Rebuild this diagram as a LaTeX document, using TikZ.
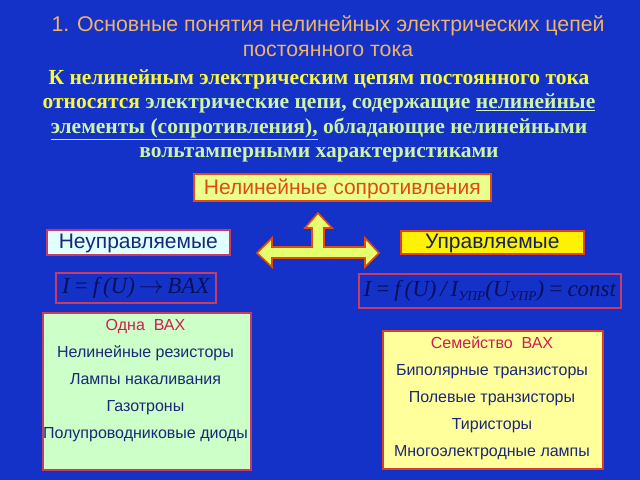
\documentclass[tikz,border=0pt]{standalone}
\usepackage{fontspec}
\setmainfont{Liberation Sans}
\newfontfamily\timesf{Liberation Serif}
\definecolor{bg}{RGB}{20,50,200}
\definecolor{titlec}{RGB}{240,180,100}
\definecolor{yel}{RGB}{250,250,60}
\definecolor{grn}{RGB}{205,245,165}
\definecolor{redb}{RGB}{220,60,40}
\definecolor{pinkb}{RGB}{200,60,100}
\definecolor{navy}{RGB}{25,40,120}
\definecolor{crim}{RGB}{205,30,80}
\definecolor{orangetx}{RGB}{225,75,15}
\definecolor{lgy}{RGB}{235,255,140}
\definecolor{arrowf}{RGB}{230,255,110}
\definecolor{lcyan}{RGB}{225,255,255}
\definecolor{lgreen}{RGB}{205,255,200}
\definecolor{lyellow}{RGB}{255,255,155}
\definecolor{formc}{RGB}{10,15,90}
\tikzset{
  box/.style={draw=redb, line width=1.6bp, inner sep=0pt, anchor=north west},
  formbox/.style={draw=pinkb, line width=1.6bp, inner sep=0pt, anchor=north west},
  listtx/.style={text=navy, font=\fontsize{16bp}{27bp}\selectfont, align=center},
}
\begin{document}
\begin{tikzpicture}[x=1bp,y=-1bp]
\fill[bg] (0,0) rectangle (640,480);
\useasboundingbox (0,0) rectangle (640,480);
% title
\node[text=titlec, font=\fontsize{21.3bp}{24.5bp}\selectfont, align=center] (title) at (328,36)
  {1. Основные понятия нелинейных электрических цепей\\постоянного тока};
% paragraph
\node[font=\timesf\bfseries\fontsize{21.5bp}{24.5bp}\selectfont, align=center] (para) at (319,116)
  {\textcolor{yel}{К нелинейным электрическим цепям постоянного тока}\\
   \textcolor{yel}{относятся} \textcolor{grn}{электрические цепи, содержащие \underline{нелинейные}}\\
   \textcolor{grn}{\underline{элементы (сопротивления),} обладающие нелинейными}\\
   \textcolor{grn}{вольтамперными характеристиками}};
% top box
\node[box, draw=orangetx, fill=lgy, minimum width=297bp, minimum height=27bp] (nr) at (193,173) {};
\node[text=orangetx, font=\fontsize{21bp}{22bp}\selectfont] (nrt) at ([yshift=-1.5bp]nr.center) {Нелинейные сопротивления};
% left/right boxes
\node[box, fill=lcyan, draw=pinkb, minimum width=183bp, minimum height=25bp] (nu) at (46,229) {};
\node[text=navy, font=\fontsize{21bp}{22bp}\selectfont] (nut) at ([yshift=-1.5bp]nu.center) {Неуправляемые};
\node[box, fill=yellow, minimum width=183bp, minimum height=23bp] (up) at (400,230) {};
\node[text=navy!80!black, font=\fontsize{21bp}{22bp}\selectfont] (upt) at ([yshift=-1.5bp]up.center) {Управляемые};
% T arrow
\draw[draw=orangetx, fill=arrowf, line width=1.6bp, line join=miter]
  (318,213) -- (332,228) -- (324,228) -- (324,247) -- (365,247) -- (365,238) -- (379,253)
  -- (365,267) -- (365,258) -- (272,258) -- (272,267) -- (257,253) -- (272,238) -- (272,247)
  -- (312,247) -- (312,228) -- (305,228) -- cycle;
% formulas
\node[formbox, minimum width=160bp, minimum height=30bp] (f1) at (55,272) {};
\node[text=formc, font=\timesf\itshape\fontsize{23bp}{24bp}\selectfont] (f1t) at (f1.center)
  {I\,=\,f\,(U)\,{\upshape$\rightarrow$}\,BAX};
\node[formbox, minimum width=262bp, minimum height=34bp] (f2) at (358,273) {};
\node[text=formc, font=\timesf\itshape\fontsize{23bp}{24bp}\selectfont] (f2t) at (f2.center)
  {I\,=\,f\,(U)\,/\,I\raisebox{-4bp}{\fontsize{13.5bp}{14bp}\selectfont УПР}(U\raisebox{-4bp}{\fontsize{13.5bp}{14bp}\selectfont УПР})\,=\,const};
% bottom boxes
\node[box, draw=pinkb, fill=lgreen, minimum width=208bp, minimum height=157bp] (lb) at (42,312) {};
\node[listtx, anchor=north] (lbt) at (145.5,316)
  {\textcolor{crim}{Одна\ \ ВАХ}\\Нелинейные резисторы\\Лампы накаливания\\Газотроны\\Полупроводниковые диоды};
\node[box, fill=lyellow, minimum width=220bp, minimum height=138bp] (rb) at (382,330) {};
\node[listtx, anchor=north] (rbt) at (492,333)
  {\textcolor{crim}{Семейство\ \ ВАХ}\\Биполярные транзисторы\\Полевые транзисторы\\Тиристоры\\Многоэлектродные лампы};
\end{tikzpicture}
\end{document}
